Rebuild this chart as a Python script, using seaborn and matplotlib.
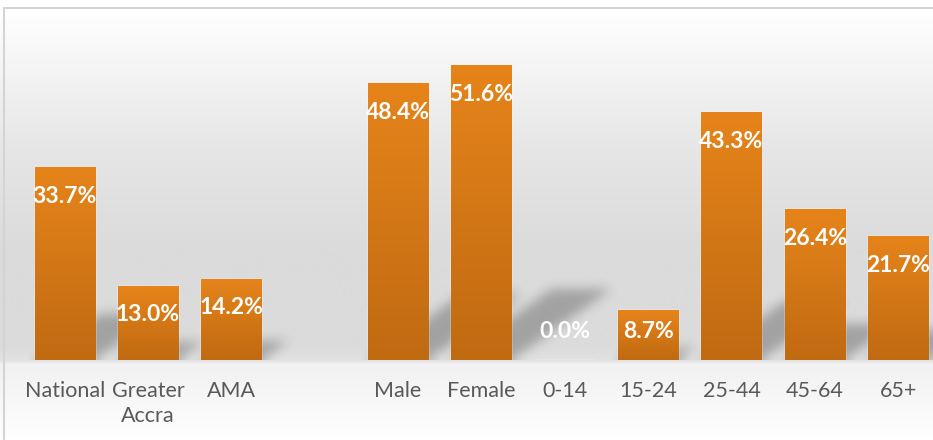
import matplotlib
matplotlib.use("Agg")
import matplotlib.pyplot as plt
import numpy as np
import pandas as pd
import seaborn as sns
from matplotlib.colors import LinearSegmentedColormap
from matplotlib.patches import Rectangle

# data
region_labels = ["National", "Greater\nAccra", "AMA"]
region_values = [33.7, 13.0, 14.2]
sex_labels = ["Male", "Female"]
sex_values = [48.4, 51.6]
age_labels = ["0-14", "15-24", "25-44", "45-64", "65+"]
age_values = [0.0, 8.7, 43.3, 26.4, 21.7]

SPACER = " "
order = region_labels + [SPACER] + sex_labels + age_labels
df = pd.DataFrame({
    "group": region_labels + sex_labels + age_labels,
    "share": region_values + sex_values + age_values,
})

W, H = 933, 440
sns.set_style("white")
plt.rcParams["font.family"] = ["Lato", "DejaVu Sans"]

fig = plt.figure(figsize=(W / 100, H / 100), dpi=100)

# background gradient (white -> grey -> white)
bg = fig.add_axes([0, 0, 1, 1], zorder=-2)
stops = [(0, 255), (10, 255), (60, 246), (150, 230), (250, 219),
         (345, 219), (360, 226), (364, 241), (440, 255)]
ys = np.arange(H)
grey = np.interp(ys, [s[0] for s in stops], [s[1] for s in stops]) / 255.0
bg.imshow(np.dstack([grey[:, None]] * 3), extent=[0, 1, 0, 1], aspect="auto",
          origin="upper", interpolation="bilinear")
bg.add_patch(Rectangle((4 / W, -0.1), 1.2, (H - 8) / H + 0.1, transform=bg.transAxes,
                       fill=False, edgecolor="#d4d4d4", lw=1.5))
bg.set_axis_off()

slot_px = 83.35
ax = fig.add_axes([23 / W, 80 / H, 11 * slot_px / W, 343 / H])
ax.patch.set_alpha(0)

sns.barplot(data=df, x="group", y="share", order=order, color="#d67916",
            width=0.72, ax=ax, errorbar=None, zorder=3)
ax.set_xlim(-0.5, len(order) - 0.5)
ax.set_ylim(0, 60)

fig.canvas.draw()
to_px = ax.transData.transform
px_x = to_px((1, 0))[0] - to_px((0, 0))[0]
px_y = to_px((0, 1))[1] - to_px((0, 0))[1]

# gradient fill for each bar
bar_cmap = LinearSegmentedColormap.from_list("bar", ["#c06a12", "#e6841a"])
grad = np.linspace(0, 1, 128)[:, None]
for p in ax.patches:
    x0, y0 = p.get_x(), p.get_y()
    w, h = p.get_width(), p.get_height()
    if h <= 0:
        continue
    im = ax.imshow(grad, cmap=bar_cmap, extent=[x0, x0 + w, y0, y0 + h],
                   origin="lower", aspect="auto", zorder=4, interpolation="bilinear")
    im.set_clip_path(p)

# soft perspective shadows cast up-right from each bar
nx = int(round((len(order)) * px_x))
ny = int(round(60 * px_y))
xs_px = np.arange(nx)[None, :] + 0.5
ys_px = np.arange(ny)[:, None] + 0.5
mask = np.zeros((ny, nx))
for p in ax.patches:
    h_px = p.get_height() * px_y
    if h_px <= 0:
        continue
    left = (p.get_x() + 0.5) * px_x
    right = left + p.get_width() * px_x
    dx, dy = 0.34 * h_px, 0.24 * h_px
    t = ys_px / dy
    inside = (t <= 1) & (xs_px >= left + t * dx) & (xs_px <= right + t * dx)
    mask = np.maximum(mask, inside.astype(float))


def box_blur(a, r):
    pad = np.pad(a, r, mode="edge")
    c = np.cumsum(pad, axis=0)
    c = np.vstack([np.zeros((1, c.shape[1])), c])
    a = (c[2 * r + 1:] - c[:-2 * r - 1]) / (2 * r + 1)
    c = np.cumsum(a, axis=1)
    c = np.hstack([np.zeros((c.shape[0], 1)), c])
    return (c[:, 2 * r + 1:] - c[:, :-2 * r - 1]) / (2 * r + 1)


for _ in range(3):
    mask = box_blur(mask, 5)
shadow = np.zeros((ny, nx, 4))
shadow[..., 3] = 0.26 * mask
ax.imshow(shadow, extent=[-0.5, len(order) - 0.5, 0, 60], origin="lower",
          aspect="auto", zorder=2, interpolation="bilinear")
ax.set_xlim(-0.5, len(order) - 0.5)
ax.set_ylim(0, 60)

# value labels inside the top of each bar
for p in ax.patches:
    v = p.get_height()
    ax.text(p.get_x() + p.get_width() / 2, max(v - 5.1, 4.9), f"{v:.1f}%",
            ha="center", va="center", color="white", fontsize=16.5,
            fontweight="bold", zorder=6)

ax.set_xlabel("")
ax.set_ylabel("")
ax.set_yticks([])
ax.tick_params(axis="x", length=0, pad=15, labelsize=15.5, labelcolor="#595959")
for lab in ax.get_xticklabels():
    lab.set_linespacing(1.35)
sns.despine(ax=ax, left=True, bottom=True)

fig.savefig("out.png", dpi=100)
plt.close(fig)
